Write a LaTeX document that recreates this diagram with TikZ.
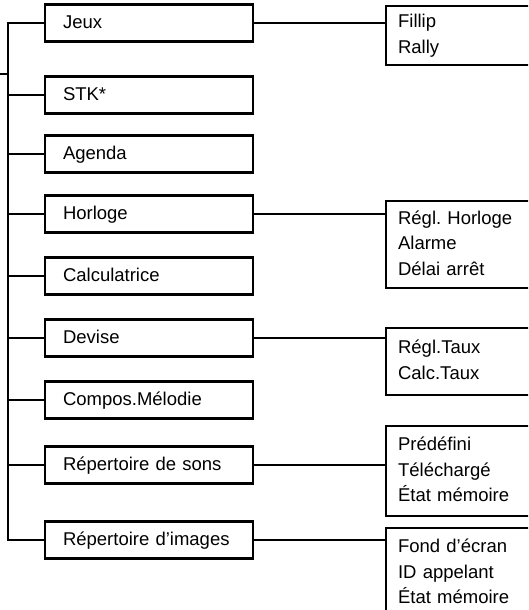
\documentclass[tikz,border=0pt]{standalone}
\usepackage{fontspec}
\setmainfont{Liberation Sans}
\usetikzlibrary{positioning}
\frenchspacing
\tikzset{
  ln/.style={line width=2.2pt},
  menu/.style={draw,ln,minimum width=208pt,minimum height=37pt,text width=172pt,
    inner xsep=18pt,inner ysep=0pt,align=left,
    font=\fontsize{18.5}{25.5}\selectfont,execute at begin node=\strut},
  sub/.style={draw,ln,anchor=north west,minimum width=160pt,text width=136pt,
    inner xsep=12pt,inner ysep=0pt,align=left,
    font=\fontsize{18.5}{25.5}\selectfont,
    execute at begin node=\strut,execute at end node=\strut},
}

\begin{document}
\begin{tikzpicture}[x=1pt,y=-1pt]
  \clip (0,0) rectangle (528,610);

  % main menu
  \node[menu] (jeux)    at (149,23)  {Jeux};
  \node[menu] (stk)     at (149,95)  {STK*};
  \node[menu] (agenda)  at (149,154) {Agenda};
  \node[menu] (horloge) at (149,214) {Horloge};
  \node[menu] (calc)    at (149,276) {Calculatrice};
  \node[menu] (devise)  at (149,338) {Devise};
  \node[menu] (compos)  at (149,400) {Compos.Mélodie};
  \node[menu] (sons)    at (149,465) {Répertoire de sons};
  \node[menu] (images)  at (149,540) {Répertoire d’images};

  % sub menus
  \node[sub,minimum height=59pt] (fjeux)    at (385,5)   {Fillip\\Rally};
  \node[sub,minimum height=87pt] (fhorloge) at (385,200) {Régl.\ Horloge\\Alarme\\Délai arrêt};
  \node[sub,minimum height=67pt] (fdevise)  at (385,327) {Régl.Taux\\Calc.Taux};
  \node[sub,minimum height=90pt] (fsons)    at (385,425) {Prédéfini\\Téléchargé\\État mémoire};
  \node[sub,minimum height=90pt] (fimages)  at (385,527) {Fond d’écran\\ID appelant\\État mémoire};

  % tree
  \coordinate (in) at (0,74);
  \coordinate (root) at (8.3,74);
  \draw[ln] (in) -- (root);
  \draw[ln] (jeux.west) -| (root) |- (images.west);
  \foreach \m in {stk,agenda,horloge,calc,devise,compos,sons}
    \draw[ln] (\m.west) -- (\m.west -| root);

  \foreach \m/\f in {jeux/fjeux,horloge/fhorloge,devise/fdevise,sons/fsons,images/fimages}
    \draw[ln] (\m.east) -- (\m.east -| \f.west);
\end{tikzpicture}
\end{document}
